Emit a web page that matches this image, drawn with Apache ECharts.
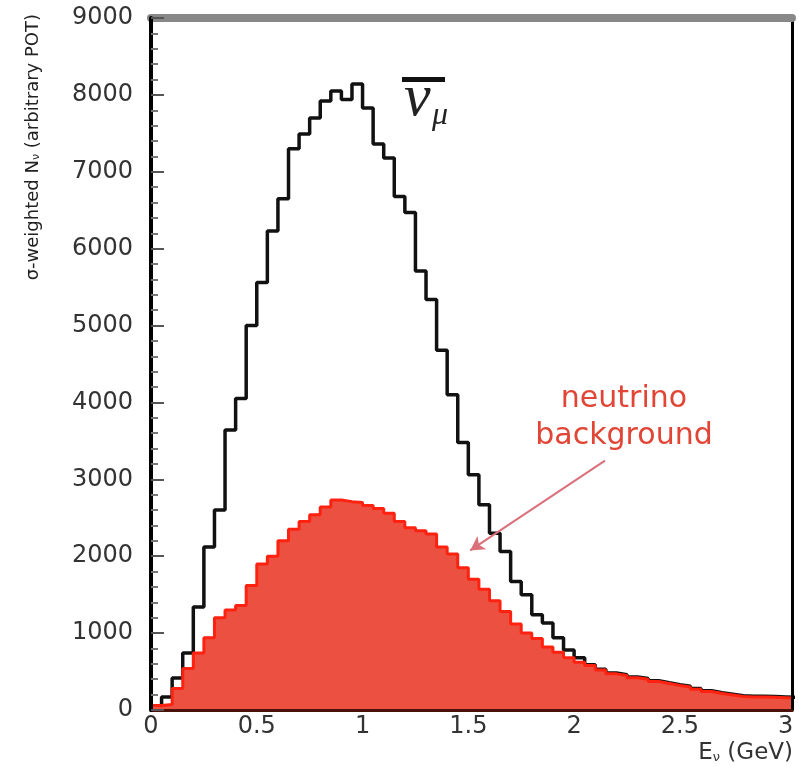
<!DOCTYPE html>
<html><head><meta charset="utf-8">
<script src="https://cdn.jsdelivr.net/npm/echarts@6/dist/echarts.min.js"></script>
<style>html,body{margin:0;padding:0;background:#fff}#c{width:799px;height:767px}</style>
</head><body><div id="c"></div>
<script>
// Bin left edges (GeV), bin width 0.05
const binStarts = [0.00,0.05,0.10,0.15,0.20,0.25,0.30,0.35,0.40,0.45,0.50,0.55,0.60,0.65,0.70,0.75,0.80,0.85,0.90,0.95,
  1.00,1.05,1.10,1.15,1.20,1.25,1.30,1.35,1.40,1.45,1.50,1.55,1.60,1.65,1.70,1.75,1.80,1.85,1.90,1.95,
  2.00,2.05,2.10,2.15,2.20,2.25,2.30,2.35,2.40,2.45,2.50,2.55,2.60,2.65,2.70,2.75,2.80,2.85,2.90,2.95,3.00];
const lastBinEnd = 3.05;
// anti-nu_mu total (black histogram)
const totalCounts = [0,170,415,740,1340,2120,2600,3640,4050,5000,5560,6230,6650,7300,7490,7700,7920,8050,7940,8140,
  7830,7360,7180,6680,6470,5710,5340,4680,4100,3480,3060,2670,2300,2060,1670,1500,1240,1130,940,780,
  680,590,530,480,460,430,410,380,355,330,310,280,250,225,205,185,180,180,175,170,165];
// neutrino background (red filled histogram)
const backgroundCounts = [60,70,280,540,740,940,1200,1300,1360,1620,1900,2000,2200,2350,2450,2540,2640,2730,2710,2700,
  2660,2620,2560,2450,2370,2330,2290,2120,2030,1850,1700,1570,1420,1280,1120,1000,930,820,750,680,
  620,580,520,470,450,420,400,370,345,320,300,270,240,215,195,175,170,170,165,160,155];
const xTickValues = [0,0.5,1,1.5,2,2.5,3];
const xTickLabels = ['0','0.5','1','1.5','2','2.5','3'];
const yTickValues = [0,1000,2000,3000,4000,5000,6000,7000,8000,9000];
const yTickLabels = ['0','1000','2000','3000','4000','5000','6000','7000','8000','9000'];
const arrowFrom = [2.146, 3243];
const arrowTo = [1.509, 2075];

function stepData(vals){
  const d = binStarts.map((x,i)=>[x, vals[i]]);
  d.push([lastBinEnd, vals[vals.length-1]]);
  return d;
}
function lookup(values, labels){
  return function(v){
    const i = values.findIndex(t=>Math.abs(t-v)<1e-6);
    return i>=0 ? labels[i] : '';
  };
}
const FONT = 'DejaVu Sans';
const chart = echarts.init(document.getElementById('c'), null, {renderer:'canvas'});
chart.setOption({
  animation:false,
  backgroundColor:'#fff',
  grid:{left:151, right:7, top:18, bottom:57, containLabel:false},
  xAxis:[{
    type:'value', min:0, max:3.03, interval:0.5, z:10,
    axisLine:{show:true, onZero:false, lineStyle:{color:'#4a1208', width:3}},
    axisTick:{show:false},
    splitLine:{show:false},
    axisLabel:{show:true, margin:5, fontFamily:FONT, fontSize:24, color:'#333', formatter:lookup(xTickValues,xTickLabels), showMaxLabel:true}
  },{
    type:'value', position:'top', min:0, max:3.03, z:10,
    axisLine:{show:true, onZero:false, lineStyle:{color:'#888', width:8}},
    axisTick:{show:false}, axisLabel:{show:false}, splitLine:{show:false}
  }],
  yAxis:[{
    type:'value', min:0, max:9000, interval:1000, z:11,
    axisLine:{show:true, onZero:false, lineStyle:{color:'#000', width:4}},
    axisTick:{show:true, inside:true, length:13, lineStyle:{color:'#555', width:2}},
    minorTick:{show:true, splitNumber:5, length:7, lineStyle:{color:'#777', width:2}},
    splitLine:{show:false},
    axisLabel:{margin:18, fontFamily:FONT, fontSize:24, color:'#333', formatter:lookup(yTickValues,yTickLabels)}
  },{
    type:'value', position:'right', min:0, max:9000, z:10,
    axisLine:{show:true, onZero:false, lineStyle:{color:'#000', width:3}},
    axisTick:{show:false}, axisLabel:{show:false}, splitLine:{show:false}
  }],
  series:[{
    type:'line', name:'total', step:'end', symbol:'none', z:2,
    data:stepData(totalCounts),
    lineStyle:{color:'#111', width:3.5}
  },{
    type:'line', name:'neutrino background', step:'end', symbol:'none', z:3,
    data:stepData(backgroundCounts),
    lineStyle:{color:'#ff2210', width:3},
    areaStyle:{color:'#eb5040', opacity:1},
    markLine:{
      silent:true, symbol:['none','arrow'], symbolSize:[12,14],
      label:{show:false},
      lineStyle:{color:'#d9707a', width:2, type:'solid'},
      data:[[{coord:arrowFrom},{coord:arrowTo}]]
    }
  }],
  graphic:[
    {type:'text', x:33, y:14, rotation:Math.PI/2, z:20,
     style:{text:'σ-weighted N{s|ν} (arbitrary POT)', align:'right', verticalAlign:'middle',
       fontFamily:FONT, fontSize:18, fill:'#222',
       rich:{s:{fontFamily:FONT, fontSize:11, verticalAlign:'bottom', fill:'#222'}}}},
    {type:'text', x:793, y:753, z:20,
     style:{text:'E{s|ν} (GeV)', align:'right', verticalAlign:'middle',
       fontFamily:FONT, fontSize:23, fill:'#333',
       rich:{s:{fontFamily:FONT, fontSize:13, verticalAlign:'bottom', fill:'#333'}}}},
    {type:'text', x:624, y:381, z:20,
     style:{text:'neutrino\nbackground', align:'center', verticalAlign:'top',
       fontFamily:FONT, fontSize:30, lineHeight:37, fill:'#e04535'}},
    {type:'rect', z:20, shape:{x:402, y:77, width:43, height:5}, style:{fill:'#111'}},
    {type:'text', x:404, y:99, z:20,
     style:{text:'ν', align:'left', verticalAlign:'middle', fontFamily:'Liberation Serif', fontStyle:'italic', fontSize:60, fill:'#222'}},
    {type:'text', x:432, y:116, z:20,
     style:{text:'μ', align:'left', verticalAlign:'middle', fontFamily:'Liberation Serif', fontStyle:'italic', fontSize:32, fill:'#222'}}
  ]
});
</script></body></html>
